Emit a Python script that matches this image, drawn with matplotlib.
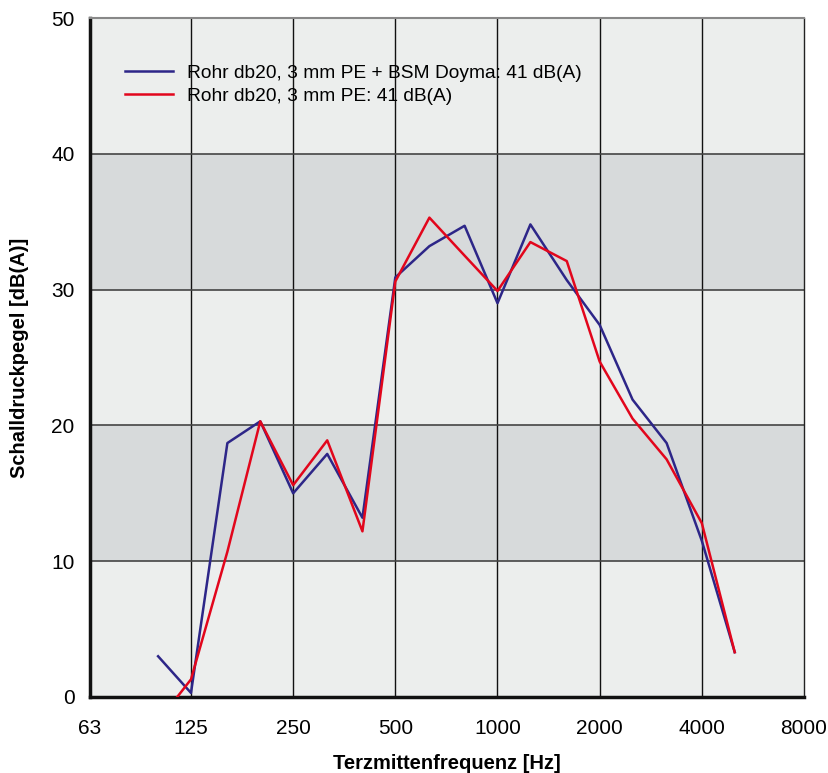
import matplotlib
matplotlib.use("Agg")
import matplotlib.pyplot as plt
from matplotlib.ticker import FixedLocator, NullLocator

plt.rcParams['font.family'] = ['Liberation Sans', 'DejaVu Sans']

# Data
freq = [100, 125, 160, 200, 250, 315, 400, 500, 630, 800, 1000, 1250, 1600, 2000, 2500, 3150, 4000, 5000]
blue_vals = [3.0, 0.3, 18.7, 20.3, 15.0, 17.9, 13.2, 30.9, 33.2, 34.7, 29.0, 34.8, 30.7, 27.4, 21.9, 18.7, 11.5, 3.3]
red_vals = [-1.8, 1.3, 10.7, 20.3, 15.6, 18.9, 12.2, 30.6, 35.3, 32.5, 29.9, 33.5, 32.1, 24.7, 20.5, 17.5, 12.8, 3.3]
blue_label = "Rohr db20, 3 mm PE + BSM Doyma: 41 dB(A)"
red_label = "Rohr db20, 3 mm PE: 41 dB(A)"
xticks = [63, 125, 250, 500, 1000, 2000, 4000, 8000]
xtick_labels = ["63", "125", "250", "500", "1000", "2000", "4000", "8000"]
yticks = [0, 10, 20, 30, 40, 50]
dark_bands = [(10, 20), (30, 40)]

W, H = 829, 773
fig = plt.figure(figsize=(W / 100, H / 100), dpi=100)
left, right, top, bottom = 90, 804, 18, 697
ax = fig.add_axes([left / W, 1 - bottom / H, (right - left) / W, (bottom - top) / H])

light = "#eceeed"
dark = "#d7dadb"
ax.set_facecolor(light)
for lo, hi in dark_bands:
    ax.axhspan(lo, hi, color=dark, zorder=0, lw=0)

ax.set_xscale('log')
ax.set_xlim(63, 8000)
ax.set_ylim(0, 50)

# grid
for f in xticks[1:-1]:
    ax.axvline(f, color="#111111", lw=1.0, zorder=1)
for y in yticks[1:-1]:
    ax.axhline(y, color="#444444", lw=1.2, zorder=1)

ax.plot(freq, blue_vals, color="#2d2688", lw=1.8, label=blue_label, zorder=3)
ax.plot(freq, red_vals, color="#e2061c", lw=1.8, label=red_label, zorder=4)

ax.xaxis.set_major_locator(FixedLocator(xticks))
ax.set_xticklabels(xtick_labels)
ax.xaxis.set_minor_locator(NullLocator())
ax.set_yticks(yticks)
ax.tick_params(axis='both', length=0, labelsize=15)
ax.tick_params(axis='x', pad=16)
ax.tick_params(axis='y', pad=11)

for s in ['left', 'bottom']:
    ax.spines[s].set_linewidth(2.5)
    ax.spines[s].set_color("#111111")
ax.spines['top'].set_color("#888888")
ax.spines['top'].set_linewidth(1.5)
ax.spines['right'].set_color("#222222")
ax.spines['right'].set_linewidth(1.0)

ax.set_xlabel("Terzmittenfrequenz [Hz]", fontsize=14.5, fontweight='bold')
ax.set_ylabel("Schalldruckpegel [dB(A)]", fontsize=14.5, fontweight='bold')
ax.xaxis.set_label_coords(0.5, -(754 - bottom) / (bottom - top))
ax.yaxis.set_label_coords((29 - left) / (right - left), 0.5)

leg = ax.legend(loc='upper left', bbox_to_anchor=(0.049, 0.9317), frameon=False,
                fontsize=13.8, handlelength=2.5, handletextpad=0.73,
                labelspacing=0.3, borderpad=0, borderaxespad=0)

fig.savefig("out.png", dpi=100)
